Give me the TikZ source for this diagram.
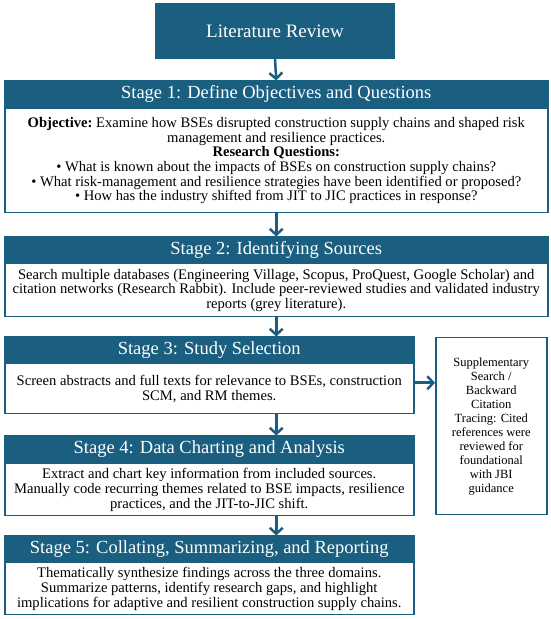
\documentclass[tikz,border=0pt]{standalone}
\usepackage{fontspec}
\setmainfont{Liberation Serif}
\usetikzlibrary{arrows.meta,calc}
\definecolor{tealA}{HTML}{1A5E80}
\begin{document}
\begin{tikzpicture}[x=1pt,y=1pt,
  hdr/.style={fill=tealA, draw=tealA, line width=1.5pt, text=white,
    font=\fontsize{18.5}{21}\selectfont, inner sep=0pt},
  bdy/.style={draw=tealA, line width=1.5pt, fill=white, align=center,
    font=\fontsize{14.6}{14.7}\selectfont, inner sep=0pt, anchor=north west},
  arr/.style={draw=tealA, line width=2.5pt, -{Straight Barb[length=6pt,width=13pt]}}]
\useasboundingbox (0,0) rectangle (550,619);

\node[hdr, font=\fontsize{19}{22}\selectfont, minimum width=238, minimum height=54] (lit) at (275,588) {Literature Review};

% Stage 1
\node[bdy, minimum width=543, minimum height=104] (s1b) at (4,511)
 {\textbf{Objective:}\ Examine how BSEs disrupted construction supply chains and shaped risk\\
  management and resilience practices.\\
  \textbf{Research Questions:}\\
  \textbullet\ What is known about the impacts of BSEs on construction supply chains?\\
  \textbullet\ What risk-management and resilience strategies have been identified or proposed?\\
  \textbullet\ How has the industry shifted from JIT to JIC practices in response?};
\node[hdr, anchor=south west, minimum width=543, minimum height=26] (s1h) at (s1b.north west)
 {Stage 1: Define Objectives and Questions};

% Stage 2
\node[bdy, minimum width=543, minimum height=53] (s2b) at (4,356)
 {Search multiple databases (Engineering Village, Scopus, ProQuest, Google Scholar) and\\
  citation networks (Research Rabbit). Include peer-reviewed studies and validated industry\\
  reports (grey literature).};
\node[hdr, anchor=south west, minimum width=543, minimum height=25] (s2h) at (s2b.north west)
 {Stage 2: Identifying Sources};

% Stage 3
\node[bdy, minimum width=409, minimum height=50] (s3b) at (4,256)
 {Screen abstracts and full texts for relevance to BSEs, construction\\
  SCM, and RM themes.};
\node[hdr, anchor=south west, minimum width=409, minimum height=25] (s3h) at (s3b.north west)
 {Stage 3: Study Selection};

% Stage 4
\node[bdy, minimum width=409, minimum height=52] (s4b) at (4,156)
 {Extract and chart key information from included sources.\\
  Manually code recurring themes related to BSE impacts, resilience\\
  practices, and the JIT-to-JIC shift.};
\node[hdr, anchor=south west, minimum width=409, minimum height=26] (s4h) at (s4b.north west)
 {Stage 4: Data Charting and Analysis};

% Stage 5
\node[bdy, minimum width=409, minimum height=52] (s5b) at (4,57)
 {Thematically synthesize findings across the three domains.\\
  Summarize patterns, identify research gaps, and highlight\\
  implications for adaptive and resilient construction supply chains.};
\node[hdr, anchor=south west, minimum width=409, minimum height=25] (s5h) at (s5b.north west)
 {Stage 5: Collating, Summarizing, and Reporting};

% Supplementary
\node[bdy, font=\fontsize{12.5}{14}\selectfont, minimum width=111, minimum height=177] (sup) at (435,282)
 {Supplementary\\ Search /\\ Backward\\ Citation\\ Tracing: Cited\\ references were\\
  reviewed for\\ foundational\\ with JBI\\ guidance};

% arrows
\draw[arr] (lit.south) -- (s1h.north);
\draw[arr] (s1b.south) -- (s2h.north);
\draw[arr] (s2b.south) -- (s2b.south |- s3h.north);
\draw[arr] (s3b.south -| s2b.south) -- (s4h.north -| s2b.south);
\draw[arr] (s4b.south -| s2b.south) -- (s5h.north -| s2b.south);
\coordinate (a3) at ([yshift=6pt]s3b.east);
\draw[arr] (a3) -- (a3 -| sup.west);
\end{tikzpicture}
\end{document}
